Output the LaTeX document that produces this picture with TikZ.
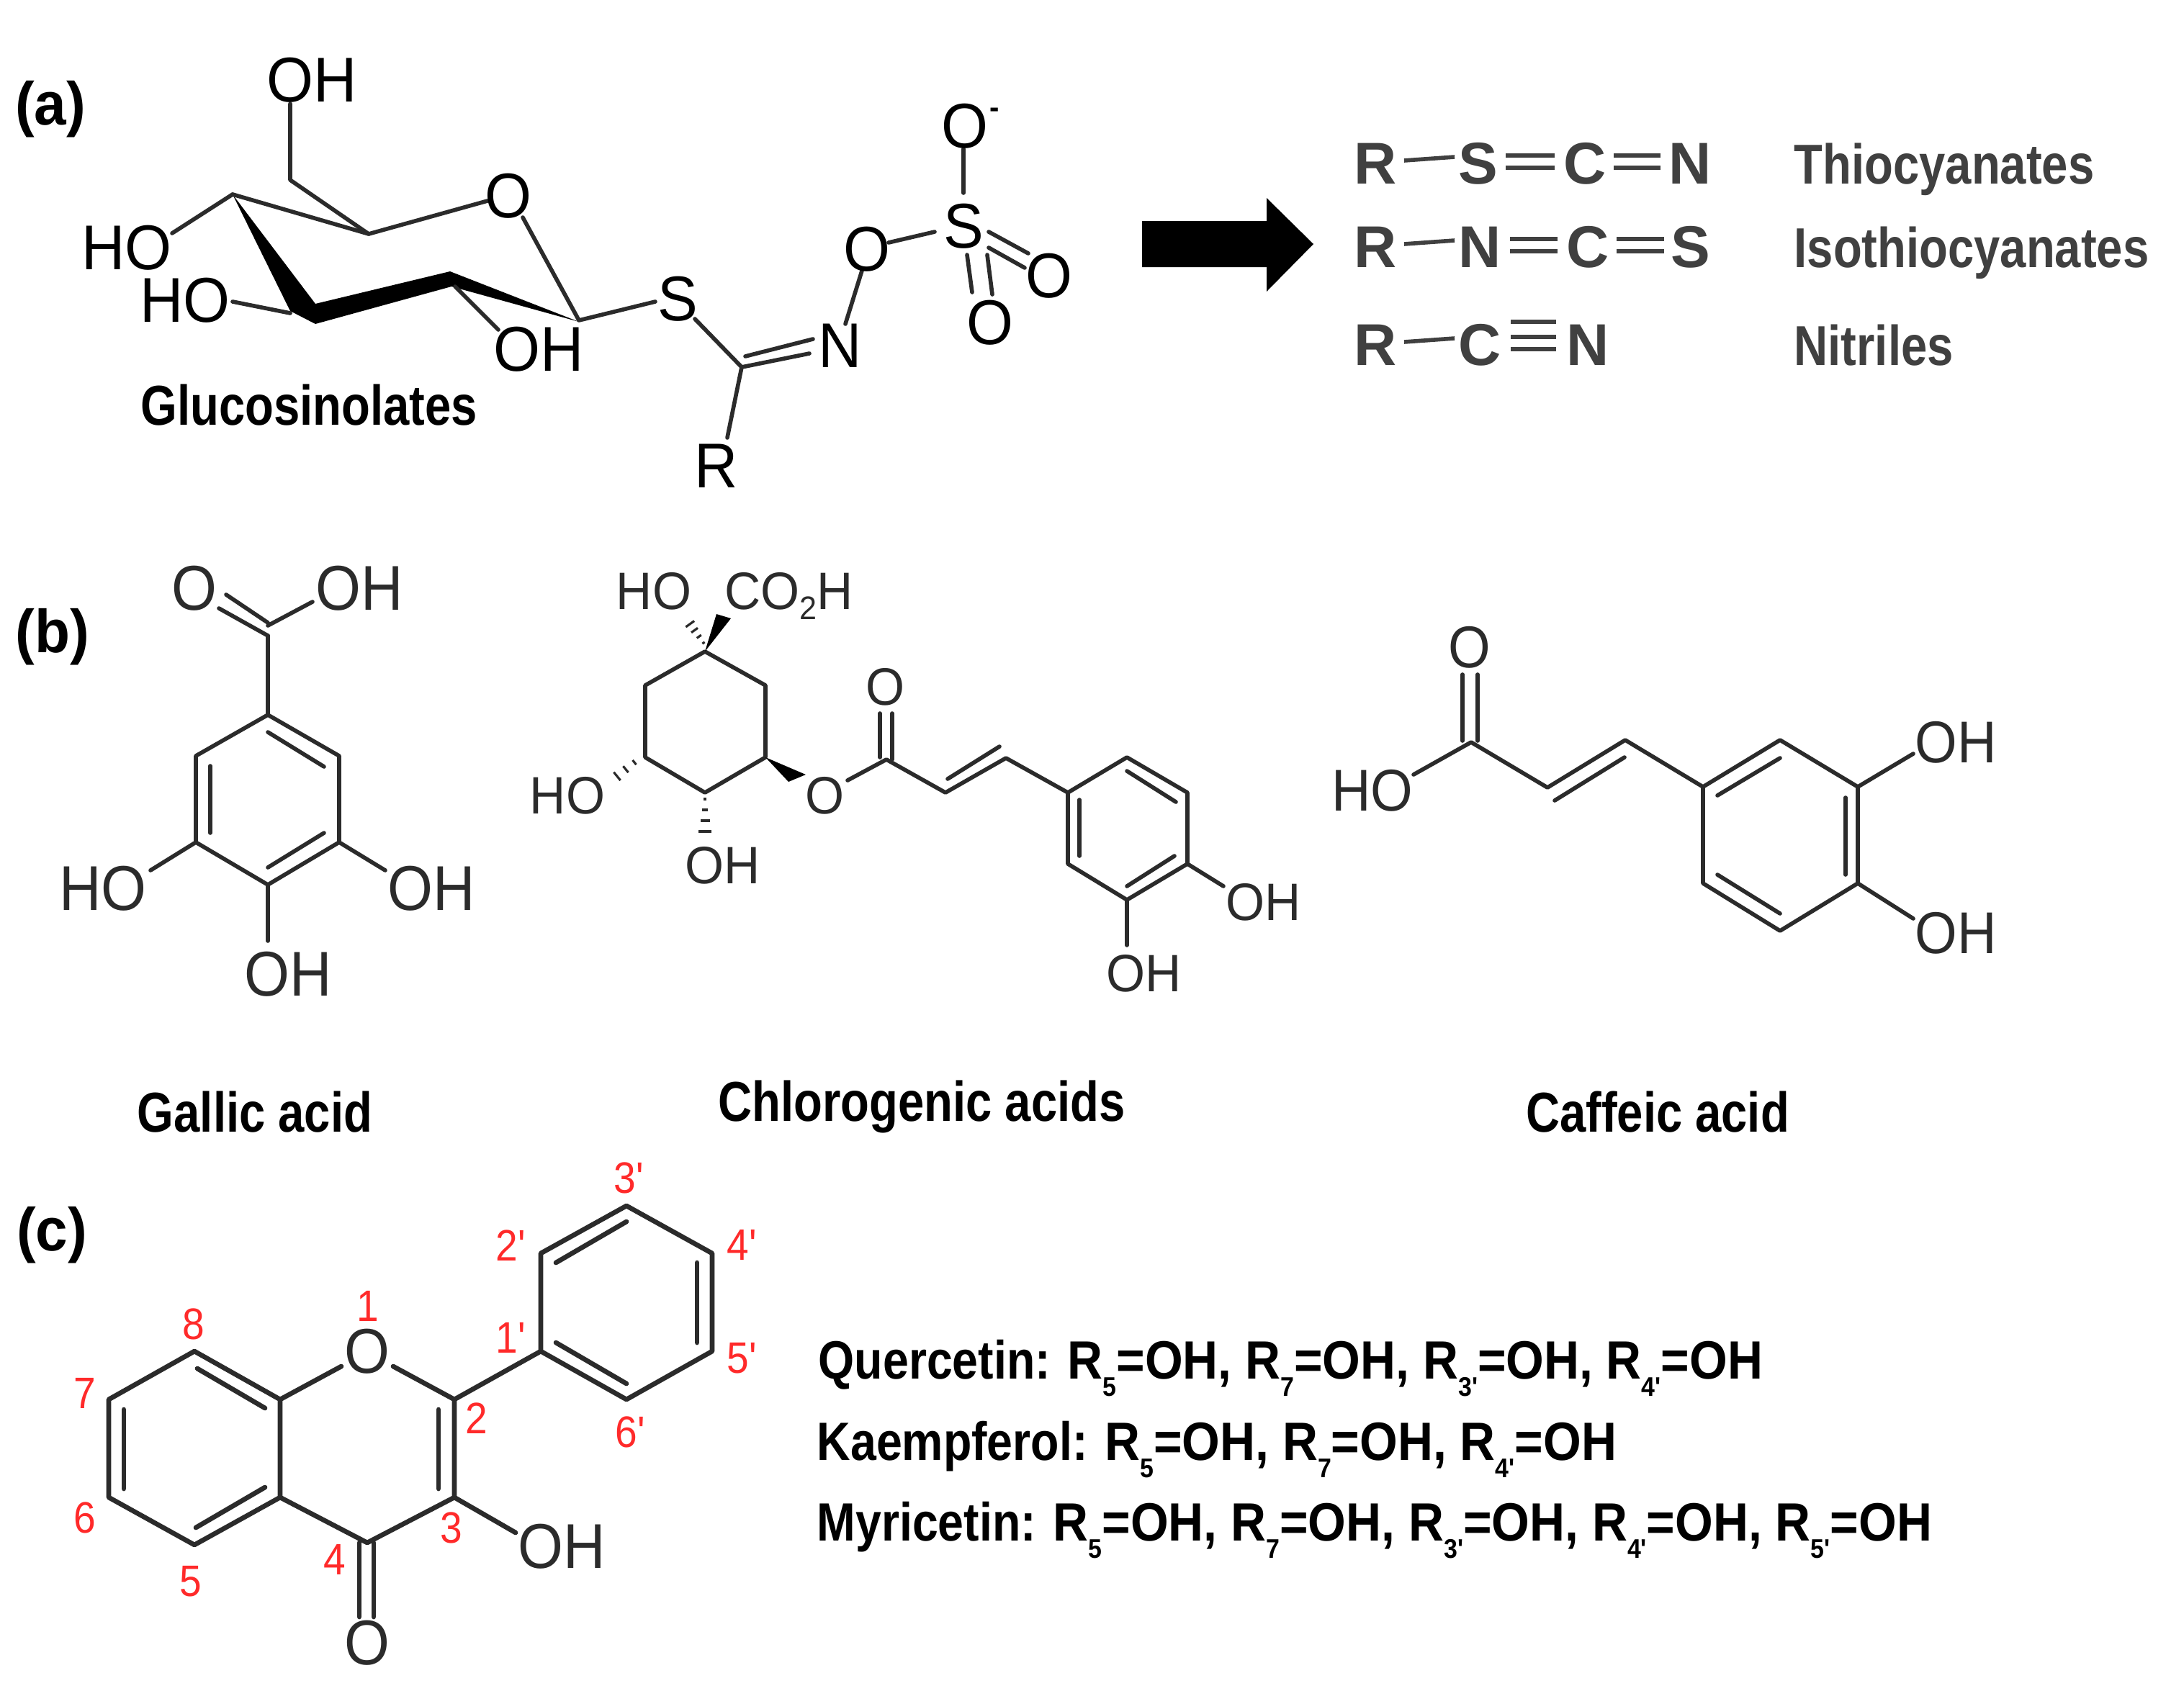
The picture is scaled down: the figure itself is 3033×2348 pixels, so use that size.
\documentclass[tikz,border=0pt]{standalone}
\usepackage{fontspec}
\usetikzlibrary{calc}
\setmainfont{Liberation Sans}
\newfontfamily\fNine[FakeStretch=0.95]{Liberation Sans}
\newfontfamily\fEight[FakeStretch=0.92]{Liberation Sans}
\newfontfamily\fNum[FakeStretch=0.9]{Liberation Sans}
\newfontfamily\fBold[FakeStretch=0.835]{Liberation Sans}
\newfontfamily\fRuleA[FakeStretch=0.86]{Liberation Sans}
\newfontfamily\fRuleB[FakeStretch=0.905]{Liberation Sans}
\definecolor{bondc}{HTML}{2B2B2B}
\definecolor{fgrey}{HTML}{404040}
\definecolor{numred}{HTML}{FF2A2A}
\newcommand\subtx[1]{\raisebox{-.33em}{\scalebox{.5}{#1}}}
\newcommand\Rn[1]{R\subtx{#1}=OH}
\newcommand\hashb[6]{% A B n w0 w1 lw
  \foreach \i in {0,...,#3}{
    \pgfmathsetmacro\tt{\i/#3}
    \pgfmathsetmacro\ww{#4+(#5-#4)*\tt}
    \draw[bondc,line width=#6,line cap=butt] ($(#1)!\tt!(#2)!\ww*0.01cm!90:(#2)$) -- ($(#1)!\tt!(#2)!\ww*0.01cm!-90:(#2)$);
  }}
\tikzset{
  bond/.style={draw=bondc,line width=1.6pt,line cap=round,line join=round},
  atomA/.style={inner sep=0,anchor=base,text=black,font=\fNine\fontsize{25}{25}\selectfont},
  atomB/.style={inner sep=0,anchor=base,text=bondc,font=\fEight\fontsize{25}{25}\selectfont},
  atomC/.style={inner sep=0,anchor=base,text=bondc,font=\fNine\fontsize{20.8}{21}\selectfont},
  atomD/.style={inner sep=0,anchor=base,text=bondc,font=\fEight\fontsize{23.3}{24}\selectfont},
  panel/.style={inner sep=0,anchor=base,text=black,font=\fNine\bfseries\fontsize{24}{24}\selectfont},
  lbl/.style={inner sep=0,anchor=base,text=black,font=\fBold\bfseries\fontsize{22.2}{23}\selectfont},
  glab/.style={inner sep=0,anchor=base west,text=fgrey,font=\fBold\bfseries\fontsize{22.2}{23}\selectfont},
  form/.style={inner sep=0,anchor=base,text=fgrey,font=\bfseries\fontsize{23.3}{24}\selectfont},
  rule/.style={inner sep=0,anchor=base west,text=black,font=\fRuleA\bfseries\fontsize{21.3}{22}\selectfont},
  num/.style={inner sep=0,anchor=base,text=numred,font=\fNum\fontsize{17.4}{18}\selectfont},
  gbond/.style={draw=fgrey,line width=1.6pt},
}
\begin{document}
\begin{tikzpicture}[x=0.01cm,y=-0.01cm]
\useasboundingbox (0,0) rectangle (3033,2348);
\fill[white] (0,0) rectangle (3033,2348);

% ---------- panel labels
\node[panel] (pa) at (70,173) {(a)};
\node[panel] (pb) at (73,906) {(b)};
\node[panel] (pc) at (72,1737) {(c)};

% ---------- glucosinolate
\fill[black] (323,270) -- (403,432) -- (438,450) -- (627,398) -- (804,447) -- (625,377) -- (438,422) -- cycle;
\draw[bond] (403,144) -- (403,250) -- (512,325) -- (677,279);
\draw[bond] (323,270) -- (512,325);
\draw[bond] (726,302) -- (804,445) -- (910,419);
\draw[bond] (323,270) -- (239,324);
\draw[bond] (403,435) -- (323,419);
\draw[bond] (632,398) -- (692,458);
\draw[bond] (965,443) -- (1030,510) -- (1010,608);
\draw[bond] (1035,495) -- (1129,471);
\draw[bond] (1030,510) -- (1124,491);
\draw[bond] (1174,450) -- (1197,376);
\draw[bond] (1234,337) -- (1298,322);
\draw[bond] (1338,268) -- (1338,207);
\draw[bond] (1373,322) -- (1428,352);
\draw[bond] (1373,344) -- (1423,372);
\draw[bond] (1343,354) -- (1350,406);
\draw[bond] (1371,354) -- (1378,409);
\node[atomA] (g1) at (433,141) {OH};
\node[atomA] (g2) at (706,302) {O};
\node[atomA] (g3) at (176,374) {HO};
\node[atomA] (g4) at (257,447) {HO};
\node[atomA] (g5) at (748,515) {OH};
\node[atomA] (g6) at (941,445) {S};
\node[atomA] (g7) at (1167,510) {N};
\node[atomA] (g8) at (995,677) {R};
\node[atomA] (g9) at (1204,376) {O};
\node[atomA] (g10) at (1338,344) {S};
\node[atomA] (g11) at (1340,205) {O};
\node[atomA,font=\fNine\bfseries\fontsize{12}{12}\selectfont] (g12) at (1381,163) {-};
\node[atomA] (g13) at (1457,413) {O};
\node[atomA] (g14) at (1375,478) {O};
\node[lbl] (gname) at (429,590) {Glucosinolates};

% ---------- arrow
\fill[black] (1586,307) -- (1759,307) -- (1759,275) -- (1824,339) -- (1759,405) -- (1759,371) -- (1586,371) -- cycle;

% ---------- products
\node[form] (r1) at (1910,255) {R};
\node[form] (r1b) at (2053,255) {S};
\node[form] (r1c) at (2201,255) {C};
\node[form] (r1d) at (2347,255) {N};
\draw[gbond] (1950,223) -- (2020,218);
\draw[gbond] (2091,216) -- (2159,216) (2091,233) -- (2159,233);
\draw[gbond] (2241,216) -- (2306,216) (2241,233) -- (2306,233);
\node[form] (r2) at (1910,371) {R};
\node[form] (r2b) at (2055,371) {N};
\node[form] (r2c) at (2205,371) {C};
\node[form] (r2d) at (2348,371) {S};
\draw[gbond] (1950,339) -- (2020,334);
\draw[gbond] (2097,332) -- (2163,332) (2097,349) -- (2163,349);
\draw[gbond] (2245,332) -- (2311,332) (2245,349) -- (2311,349);
\node[form] (r3) at (1910,507) {R};
\node[form] (r3b) at (2055,507) {C};
\node[form] (r3c) at (2205,507) {N};
\draw[gbond] (1950,475) -- (2020,470);
\draw[gbond] (2098,447) -- (2161,447) (2098,468) -- (2161,468) (2098,485) -- (2161,485);
\node[glab] (n1) at (2491,255) {Thiocyanates};
\node[glab] (n2) at (2491,371) {Isothiocyanates};
\node[glab] (n3) at (2491,507) {Nitriles};

% ---------- gallic acid
\draw[bond] (372,993) -- (471,1050) -- (471,1170) -- (372,1229) -- (272,1170) -- (272,1050) -- cycle;
\draw[bond] (372,1017) -- (450,1065);
\draw[bond] (292,1064) -- (292,1157);
\draw[bond] (372,1205) -- (450,1157);
\draw[bond] (372,993) -- (372,883);
\draw[bond] (372,869) -- (434,836);
\draw[bond] (372,883) -- (304,845);
\draw[bond] (372,865) -- (314,826);
\draw[bond] (272,1170) -- (209,1209);
\draw[bond] (471,1170) -- (535,1209);
\draw[bond] (372,1229) -- (372,1307);
\node[atomB] (a1) at (270,847) {O};
\node[atomB] (a2) at (499,847) {OH};
\node[atomB] (a3) at (143,1264) {HO};
\node[atomB] (a4) at (599,1264) {OH};
\node[atomB] (a5) at (400,1383) {OH};
\node[lbl] (aname) at (354,1572) {Gallic acid};

% ---------- chlorogenic acid
\draw[bond] (979,905) -- (1063,952) -- (1063,1052) -- (979,1101) -- (896,1052) -- (896,952) -- cycle;
\fill[black] (979,905) -- (995,853) -- (1015,859) -- cycle;
\fill[black] (1063,1052) -- (1095,1086) -- (1119,1076) -- cycle;
\hashb{977,893}{952,858}{4}{2}{9}{0.9pt}
\hashb{881,1059}{845,1088}{3}{4}{9}{0.9pt}
\hashb{979,1110}{979,1170}{4}{2}{11}{1.2pt}
\draw[bond] (1177,1084) -- (1231,1055) -- (1313,1101) -- (1397,1053) -- (1483,1101);
\draw[bond] (1222,991) -- (1222,1052);
\draw[bond] (1239,991) -- (1239,1055);
\draw[bond] (1316,1082) -- (1388,1037);
\draw[bond] (1483,1101) -- (1565,1052) -- (1649,1101) -- (1649,1200) -- (1565,1250) -- (1483,1200) -- cycle;
\draw[bond] (1565,1071) -- (1633,1114);
\draw[bond] (1499,1111) -- (1499,1189);
\draw[bond] (1565,1231) -- (1631,1189);
\draw[bond] (1649,1200) -- (1699,1231);
\draw[bond] (1565,1250) -- (1565,1313);
\node[atomC] (b1) at (908,846) {HO};
\node[atomC,anchor=base west] (b2) at (1006,846) {CO\raisebox{-.2em}{\scalebox{.62}{2}}H};
\node[atomC] (b3) at (788,1130) {HO};
\node[atomC] (b4) at (1004,1227) {OH};
\node[atomC] (b5) at (1146,1130) {O};
\node[atomC] (b6) at (1230,979) {O};
\node[atomC] (b7) at (1755,1278) {OH};
\node[atomC] (b8) at (1589,1377) {OH};
\node[lbl] (bname) at (1280,1557) {Chlorogenic acids};

% ---------- caffeic acid
\draw[bond] (2031,937) -- (2031,1029);
\draw[bond] (2052,937) -- (2052,1029);
\draw[bond] (1963,1076) -- (2043,1031) -- (2149,1094) -- (2257,1028) -- (2365,1093);
\draw[bond] (2159,1112) -- (2256,1052);
\draw[bond] (2365,1093) -- (2472,1028) -- (2580,1093) -- (2580,1227) -- (2472,1293) -- (2365,1227) -- cycle;
\draw[bond] (2385,1105) -- (2472,1053);
\draw[bond] (2563,1108) -- (2563,1215);
\draw[bond] (2385,1215) -- (2472,1269);
\draw[bond] (2580,1093) -- (2657,1047);
\draw[bond] (2580,1227) -- (2657,1276);
\node[atomD] (c1) at (2041,927) {O};
\node[atomD] (c2) at (1906,1126) {HO};
\node[atomD] (c3) at (2716,1059) {OH};
\node[atomD] (c4) at (2716,1324) {OH};
\node[lbl] (cname) at (2302,1572) {Caffeic acid};

% ---------- flavonol
\begin{scope}[bond/.append style={line width=1.9pt}]
\draw[bond] (270,1877) -- (389,1944) -- (389,2080) -- (270,2146) -- (151,2080) -- (151,1944) -- cycle;
\draw[bond] (274,1901) -- (368,1956);
\draw[bond] (172,1958) -- (172,2068);
\draw[bond] (272,2122) -- (368,2066);
\draw[bond] (389,1944) -- (474,1898);
\draw[bond] (546,1898) -- (631,1944) -- (631,2080) -- (510,2143) -- (389,2080);
\draw[bond] (609,1958) -- (609,2068);
\draw[bond] (499,2143) -- (499,2246);
\draw[bond] (519,2143) -- (519,2246);
\draw[bond] (631,2080) -- (716,2129);
\draw[bond] (631,1944) -- (751,1877);
\draw[bond] (751,1877) -- (751,1741) -- (870,1675) -- (989,1741) -- (989,1877) -- (870,1944) -- cycle;
\draw[bond] (772,1754) -- (870,1697);
\draw[bond] (968,1754) -- (968,1865);
\draw[bond] (772,1865) -- (870,1922);
\end{scope}
\node[atomB] (d1) at (510,1907) {O};
\node[atomB] (d2) at (510,2312) {O};
\node[atomB] (d3) at (780,2178) {OH};
\node[num] (l1) at (511,1835) {1};
\node[num] (l8) at (269,1860) {8};
\node[num] (l7) at (118,1956) {7};
\node[num] (l6) at (118,2129) {6};
\node[num] (l5) at (265,2217) {5};
\node[num] (l4) at (465,2187) {4};
\node[num] (l3) at (627,2143) {3};
\node[num] (l2) at (662,1991) {2};
\node[num] (l1p) at (709,1879) {1'};
\node[num] (l2p) at (709,1751) {2'};
\node[num] (l3p) at (873,1657) {3'};
\node[num] (l4p) at (1030,1750) {4'};
\node[num] (l5p) at (1030,1907) {5'};
\node[num] (l6p) at (875,2010) {6'};

% ---------- substitution text
\node[rule] (q) at (1136,1915) {Quercetin: {\fRuleB\bfseries \Rn{5}, \Rn{7}, \Rn{3'}, \Rn{4'}}};
\node[rule] (k) at (1134,2028) {Kaempferol: {\fRuleB\bfseries \Rn{5}, \Rn{7}, \Rn{4'}}};
\node[rule] (m) at (1134,2140) {Myricetin: {\fRuleB\bfseries \Rn{5}, \Rn{7}, \Rn{3'}, \Rn{4'}, \Rn{5'}}};
\end{tikzpicture}
\end{document}
